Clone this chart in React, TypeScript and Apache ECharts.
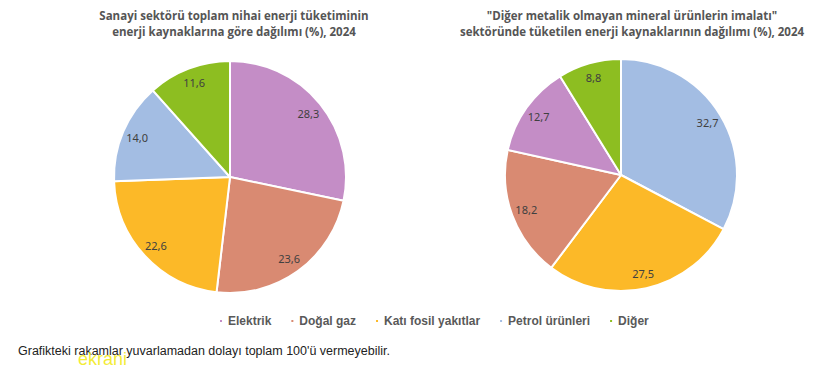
import React, { useEffect, useRef } from "react";
import * as echarts from "echarts";

const categories = ["Elektrik", "Doğal gaz", "Katı fosil yakıtlar", "Petrol ürünleri", "Diğer"];
const colors = ["#C48DC6", "#D98A72", "#FCB928", "#A3BDE3", "#8DBE21"];

// Left pie: sanayi sektörü (clockwise from top)
const leftNames = ["Elektrik", "Doğal gaz", "Katı fosil yakıtlar", "Petrol ürünleri", "Diğer"];
const leftValues = [28.3, 23.6, 22.6, 14.0, 11.6];

// Right pie: diğer metalik olmayan mineral ürünler (clockwise from top)
const rightNames = ["Petrol ürünleri", "Katı fosil yakıtlar", "Doğal gaz", "Elektrik", "Diğer"];
const rightValues = [32.7, 27.5, 18.2, 12.7, 8.8];

const leftTitle = "Sanayi sektörü toplam nihai enerji tüketiminin\nenerji kaynaklarına göre dağılımı (%), 2024";
const rightTitle = "\"Diğer metalik olmayan mineral ürünlerin imalatı\"\nsektöründe tüketilen enerji kaynaklarının dağılımı (%), 2024";
const footnote = "Grafikteki rakamlar yuvarlamadan dolayı toplam 100'ü vermeyebilir.";

const colorOf = (n: string) => colors[categories.indexOf(n)];
const fmt = (v: number) => v.toFixed(1).replace(".", ",");

function makeData(names: string[], values: number[]) {
  return names.map((n, i) => ({ name: n, value: values[i], itemStyle: { color: colorOf(n) } }));
}

export default function App() {
  const ref = useRef<HTMLDivElement>(null);
  useEffect(() => {
    if (!ref.current) return;
    const chart = echarts.init(ref.current, null, { renderer: "svg" });
    const pieBase = (center: [number, number], names: string[], values: number[]) => [
      {
        type: "pie",
        center,
        radius: [0, 116],
        startAngle: 90,
        clockwise: true,
        silent: true,
        label: { show: false },
        labelLine: { show: false },
        itemStyle: { borderColor: "#ffffff", borderWidth: 2 },
        data: makeData(names, values),
      },
      {
        type: "pie",
        center,
        radius: [80, 116],
        startAngle: 90,
        clockwise: true,
        silent: true,
        legendHoverLink: false,
        itemStyle: { color: "transparent", borderWidth: 0 },
        label: {
          show: true,
          position: "inside",
          formatter: (p: any) => fmt(p.value),
          color: "#404040",
          fontSize: 11,
          fontFamily: "Noto Sans",
        },
        labelLine: { show: false },
        data: names.map((n, i) => ({ name: n, value: values[i], itemStyle: { color: "transparent" } })),
      },
    ];
    const titleStyle = { fontSize: 11.5, fontWeight: "bold", color: "#555555", fontFamily: "Open Sans", lineHeight: 16 };
    chart.setOption({
      animation: false,
      backgroundColor: "#ffffff",
      title: [
        { text: leftTitle, left: 229, top: 2, textAlign: "center", textStyle: titleStyle },
        { text: rightTitle, left: 627, top: 2, textAlign: "center", textStyle: titleStyle },
      ],
      legend: {
        data: categories,
        left: 213,
        top: 310,
        icon: "rect",
        itemWidth: 4,
        itemHeight: 4,
        itemGap: 18,
        selectedMode: false,
        textStyle: { fontSize: 12, fontWeight: "bold", color: "#595959", fontFamily: "Liberation Sans" },
      },
      series: [
        ...pieBase([230, 177], leftNames, leftValues),
        ...pieBase([621, 175], rightNames, rightValues),
      ],
      graphic: [
        {
          type: "text",
          left: 18,
          top: 344,
          style: { text: footnote, fontSize: 12.5, fill: "#222222", fontFamily: "Liberation Sans" },
        },
        {
          type: "text",
          left: 78,
          top: 350,
          style: { text: "ekrani", fontSize: 18, fill: "#F2EA1A", fontFamily: "Liberation Sans", opacity: 0.9 },
        },
      ],
    });
    return () => chart.dispose();
  }, []);
  return (
    <div
      ref={ref}
      style={{ position: "fixed", left: 0, top: 0, width: 820, height: 370, background: "#fff" }}
    />
  );
}
